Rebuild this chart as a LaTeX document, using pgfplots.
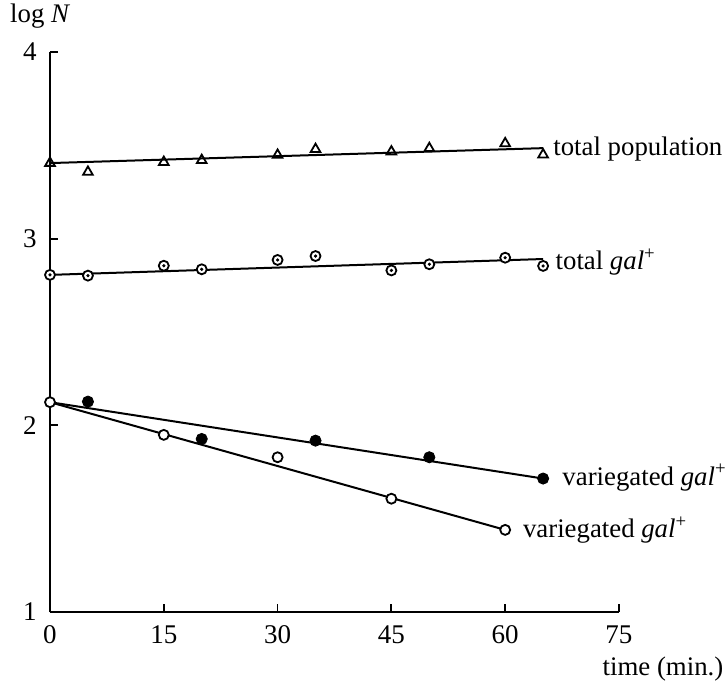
\documentclass[border=0pt]{standalone}
\usepackage{fontspec}
\setmainfont{Liberation Serif}
\usepackage{pgfplots}
\pgfplotsset{compat=1.18}
\begin{document}
\fontsize{13.4}{15}\selectfont
\begin{tikzpicture}
\path[use as bounding box] (-25pt,-34.5pt) rectangle (339pt,306pt);
\begin{axis}[
  scale only axis,
  width=284.5pt, height=280pt,
  xmin=0, xmax=75, ymin=1, ymax=4,
  axis x line*=bottom, axis y line*=left,
  axis line style={line width=1pt,-},
  xtick={0,15,30,45,60,75},
  ytick={1,2,3,4},
  tick align=inside,
  major tick length=4pt,
  tick style={line width=0.9pt,black},
  /pgf/number format/assume math mode=true,
  ticklabel style={font=\fontsize{13.5}{15}\selectfont},
  xticklabel style={yshift=-2pt},
  yticklabel style={xshift=-2pt},
  clip=false,
]
% total population
\addplot[only marks, mark=triangle, mark size=2.8pt, mark options={line width=0.9pt, fill=white}] coordinates {
(0,3.405) (5,3.357) (15,3.41) (20,3.42) (30,3.448) (35,3.479) (45,3.466) (50,3.484) (60,3.51) (65,3.45)};
\addplot[black, line width=1pt] coordinates {(0,3.405) (65,3.485)};
% total gal+
\addplot[black, line width=1pt] coordinates {(0,2.806) (65,2.891)};
\addplot[only marks, mark=*, mark size=2.5pt, mark options={line width=0.9pt, draw=black, fill=white}] coordinates {
(0,2.806) (5,2.802) (15,2.855) (20,2.836) (30,2.886) (35,2.907) (45,2.83) (50,2.863) (60,2.898) (65,2.854)};
\addplot[only marks, mark=*, mark size=0.6pt, mark options={black}] coordinates {
(0,2.806) (5,2.802) (15,2.855) (20,2.836) (30,2.886) (35,2.907) (45,2.83) (50,2.863) (60,2.898) (65,2.854)};
% variegated (filled)
\addplot[black, line width=1pt] coordinates {(0,2.124) (65,1.715)};
\addplot[only marks, mark=*, mark size=2.8pt, mark options={black}] coordinates {
(5,2.127) (20,1.927) (35,1.918) (50,1.829) (65,1.715)};
% variegated (open)
\addplot[black, line width=1pt] coordinates {(0,2.124) (60,1.44)};
\addplot[only marks, mark=*, mark size=2.5pt, mark options={line width=0.9pt, draw=black, fill=white}] coordinates {
(0,2.124) (15,1.949) (30,1.829) (45,1.607) (60,1.44)};
% labels
\node[anchor=west, inner sep=0pt] at (axis cs:66.3,3.48) {total population};
\node[anchor=west, inner sep=0pt] at (axis cs:66.6,2.875) {total \textit{gal}\textsuperscript{+}};
\node[anchor=west, inner sep=0pt] at (axis cs:67.5,1.72) {variegated \textit{gal}\textsuperscript{+}};
\node[anchor=west, inner sep=0pt] at (axis cs:62.3,1.44) {variegated \textit{gal}\textsuperscript{+}};
\node[anchor=west, inner sep=0pt] at (axis cs:-5.3,4.19) {log \textit{N}};
\node[anchor=east, inner sep=0pt] at (axis cs:88.8,0.695) {time (min.)};
\end{axis}
\end{tikzpicture}
\end{document}
